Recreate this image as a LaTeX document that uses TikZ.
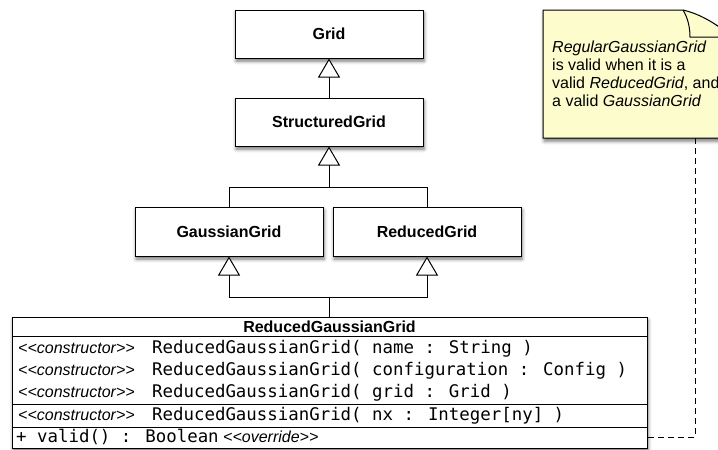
\documentclass[tikz,border=0pt]{standalone}
\usepackage{fontspec}
\setmainfont{Liberation Sans}
\newfontfamily\monof{DejaVu Sans Mono}
\newfontfamily\stereof{Liberation Sans}[Ligatures=TeXOff]
\usetikzlibrary{arrows.meta,shadows.blur}
\definecolor{notefill}{RGB}{252,252,205}
\begin{document}
\begin{tikzpicture}[x=1pt,y=-1pt,
  shad/.style={blur shadow={shadow xshift=1pt,shadow yshift=-3pt,shadow blur radius=3.5pt,shadow opacity=55}},
  cls/.style={draw,line width=1pt,fill=white,minimum width=188pt,minimum height=48pt,inner sep=0pt,
    font=\fontsize{16}{18}\selectfont\bfseries,shad},
  gen/.style={line width=1pt,-{Triangle[length=19pt,width=22pt,fill=white]}},
  stereo/.style={anchor=base west,inner sep=0pt,font=\fontsize{16}{18}\stereof\itshape},
  mono/.style={anchor=base west,inner sep=0pt,font=\fontsize{17.4}{20}\monof},
  notetxt/.style={anchor=base west,inner sep=0pt,font=\fontsize{16}{18}\selectfont},
  sep/.style={line width=1pt}
]
\useasboundingbox (0,0) rectangle (718,450);
\clip (0,0) rectangle (718,450);

% note
\path[fill=notefill,draw,line width=1pt,shad]
  (543,10) -- (683,10) .. controls (700,14) and (718,24) .. (735,40) -- (735,138) -- (543,138) -- cycle;
\draw[line width=1pt] (683,10) .. controls (688,18) and (690,28) .. (690,37) -- (735,37);
\node[notetxt] (n1) at (552,52) {\itshape RegularGaussianGrid};
\node[notetxt] (n2) at (552,70) {is valid when it is a};
\node[notetxt] (n3) at (552,88) {valid \textit{ReducedGrid}, and};
\node[notetxt] (n4) at (552,106) {a valid \textit{GaussianGrid}};
\coordinate (notebot) at (695,138);

% classes
\node[cls] (grid) at (329,34) {Grid};
\node[cls] (sgrid) at (329,122) {StructuredGrid};
\node[cls,minimum height=49pt] (ggrid) at (229,231.5) {GaussianGrid};
\node[cls,minimum height=49pt] (rgrid) at (427,231.5) {ReducedGrid};

\node[draw,line width=1pt,fill=white,minimum width=635pt,minimum height=131pt,inner sep=0pt,shad]
  (rgg) at (329.5,382.5) {};
\draw[sep] (rgg.west |- 0,336) -- (rgg.east |- 0,336);
\draw[sep] (rgg.west |- 0,404) -- (rgg.east |- 0,404);
\draw[sep] (rgg.west |- 0,427) -- (rgg.east |- 0,427);
\node[inner sep=0pt,font=\fontsize{16}{18}\selectfont\bfseries] (rggt) at (329.5,327) {ReducedGaussianGrid};

\node[stereo] (s1) at (18,353) {<<constructor>>};
\node[mono] (m1) at (152,353) {ReducedGaussianGrid( name : String )};
\node[stereo] (s2) at (18,375) {<<constructor>>};
\node[mono] (m2) at (152,375) {ReducedGaussianGrid( configuration : Config )};
\node[stereo] (s3) at (18,397) {<<constructor>>};
\node[mono] (m3) at (152,397) {ReducedGaussianGrid( grid : Grid )};
\node[stereo] (s4) at (18,420) {<<constructor>>};
\node[mono] (m4) at (152,420) {ReducedGaussianGrid( nx : Integer[ny] )};
\node[mono] (v1) at (16,442) {+ valid() : Boolean};
\node[stereo] (v2) at (223,442) {<<override>>};

% generalizations
\coordinate (j1) at (329,187);
\coordinate (j2) at (329.5,297);
\draw[gen] (sgrid) -- (grid);
\draw[gen] (ggrid.north) |- (j1) -- (sgrid.south);
\draw[line width=1pt] (rgrid.north) |- (j1);
\draw[gen] (rgg.north) -- (j2) -| (ggrid.south);
\draw[gen] (j2) -| (rgrid.south);

% note link
\coordinate (vrow) at (647,437);
\draw[line width=1pt,dash pattern=on 6pt off 4pt] (notebot) |- (vrow);
\end{tikzpicture}
\end{document}
